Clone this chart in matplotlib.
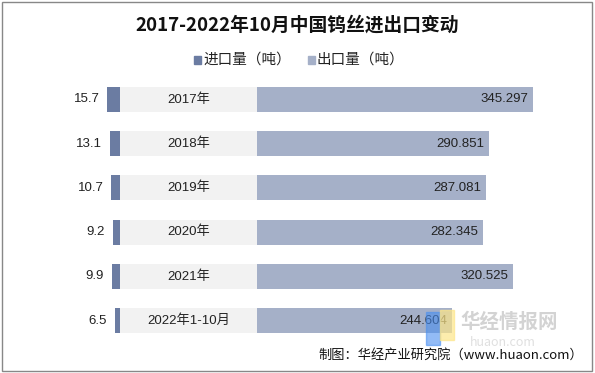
import numpy as np
from matplotlib import pyplot as plt
from matplotlib.patches import Rectangle

plt.rcParams['font.family'] = ['Noto Sans CJK SC', 'DejaVu Sans']
num_font = ['Liberation Sans', 'Noto Sans CJK SC']

# Data #
years = ['2017年', '2018年', '2019年', '2020年', '2021年', '2022年1-10月']
imports = [15.7, 13.1, 10.7, 9.2, 9.9, 6.5]
exports = [345.297, 290.851, 287.081, 282.345, 320.525, 244.604]

c_imp = '#6b7ca2'
c_exp = '#a5b0c8'
c_band = '#f2f2f2'
band = 171  # width of the label band in data units

fig = plt.figure(figsize=(5.95, 3.73), dpi=100)
ax = fig.add_axes([0, 0, 1, 1])
ax.set_xlim(-150, 593.75)
ax.set_ylim(373, 0)
ax.axis('off')

y = 99.5 + 44.2 * np.arange(len(years))
h = 25

# Bars
ax.barh(y, [-v for v in imports], height=h, color=c_imp, left=0)
ax.barh(y, band, height=h, color=c_band, left=0)
ax.barh(y, exports, height=h, color=c_exp, left=band)

for yi, lab, im, ex in zip(y, years, imports, exports):
    ax.text(-im - 10, yi, f'{im}', ha='right', va='center', fontsize=9.5, color='#222222',
            family=num_font)
    ax.text(band / 2, yi, lab, ha='center', va='center', fontsize=9.5, color='#222222',
            family=num_font)
    ax.text(band + ex - 6, yi, f'{ex:.3f}', ha='right', va='center', fontsize=9.5, color='#222222',
            family=num_font)

# Title and legend
fig.text(0.5, 1 - 25 / 373, '2017-2022年10月中国钨丝进出口变动', ha='center', va='center',
         fontsize=13.5, fontweight='bold', color='#111111')
leg_y = 1 - 60 / 373
fig.patches.append(Rectangle((194 / 595, leg_y - 3.5 / 373), 7 / 595, 7 / 373,
                             transform=fig.transFigure, color=c_imp))
fig.text(203 / 595, leg_y, '进口量（吨）', ha='left', va='center', fontsize=10.5, color='#222222')
fig.patches.append(Rectangle((308 / 595, leg_y - 3.5 / 373), 7 / 595, 7 / 373,
                             transform=fig.transFigure, color=c_exp))
fig.text(317 / 595, leg_y, '出口量（吨）', ha='left', va='center', fontsize=10.5, color='#222222')

# Watermark
fig.text(460 / 595, 1 - 322 / 373, '华经情报网', ha='left', va='center', fontsize=14,
         fontweight='bold', color='#c8c8c8', alpha=0.8)
fig.text(470 / 595, 1 - 342 / 373, 'huaon.com', ha='left', va='center', fontsize=9,
         color='#d8d8d8', alpha=0.8)
fig.patches.append(Rectangle((426 / 595, 1 - 345 / 373), 14 / 595, 33 / 373,
                             transform=fig.transFigure, color='#4a8ff0', alpha=0.6))
fig.patches.append(Rectangle((440 / 595, 1 - 340 / 373), 14 / 595, 30 / 373,
                             transform=fig.transFigure, color='#fde68a', alpha=0.7))

# Source
fig.text(583 / 595, 1 - 355 / 373, '制图：华经产业研究院（www.huaon.com）', ha='right', va='center',
         fontsize=9.5, color='#111111')

# Frame
fig.patches.append(Rectangle((2 / 595, 2 / 373), 590 / 595, 369 / 373, transform=fig.transFigure,
                             fill=False, edgecolor='#888888', linewidth=1))

fig.savefig('out.png', dpi=100)
